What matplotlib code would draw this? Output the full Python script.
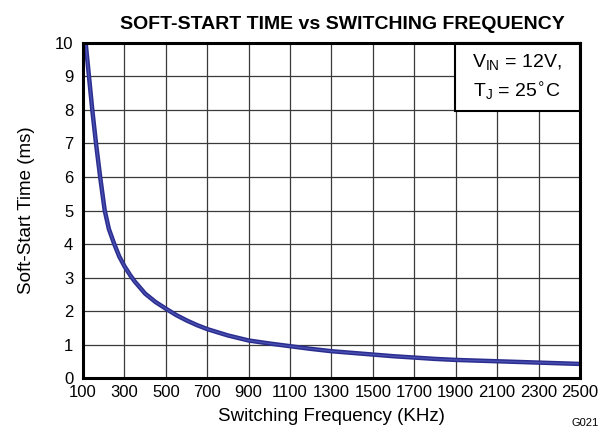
import matplotlib
matplotlib.use("Agg")
import matplotlib.pyplot as plt
from matplotlib.patches import Rectangle

# values
freq_khz = [100, 113, 129, 145, 163, 183, 205, 225, 251, 275, 300, 329, 350, 400, 450,
            500, 550, 600, 650, 700, 800, 900, 1000, 1100, 1200, 1300, 1400, 1500,
            1600, 1700, 1800, 1900, 2000, 2100, 2200, 2300, 2400, 2500]
ss_time_ms = [10.9, 10.0, 9.0, 8.0, 7.0, 6.0, 5.0, 4.45, 4.0, 3.63, 3.34, 3.06, 2.88, 2.52, 2.27,
              2.07, 1.88, 1.72, 1.58, 1.46, 1.27, 1.12, 1.03, 0.95, 0.87, 0.80, 0.75, 0.70,
              0.65, 0.61, 0.57, 0.54, 0.52, 0.50, 0.48, 0.46, 0.44, 0.42]

x_ticks = list(range(100, 2501, 200))
y_ticks = list(range(0, 11))

plt.rcParams['font.family'] = ['Liberation Sans', 'DejaVu Sans']

fig = plt.figure(figsize=(6.03, 4.36), dpi=100)
ax = fig.add_axes([0.1376, 0.133, 0.8243, 0.7684])

ax.plot(freq_khz, ss_time_ms, color='#2b2e8e', lw=3.2, solid_joinstyle='round', zorder=3)
ax.plot(freq_khz, ss_time_ms, color='#4a4fb3', lw=1.0, solid_joinstyle='round', zorder=4)

ax.set_xlim(100, 2500)
ax.set_ylim(0, 10)
ax.set_xticks(x_ticks)
ax.set_yticks(y_ticks)
ax.tick_params(length=0, labelsize=12)
ax.tick_params(axis='x', pad=5)
ax.tick_params(axis='y', pad=7)
ax.grid(True, color='#3a3a3a', lw=0.9)
ax.set_axisbelow(True)
for sp in ax.spines.values():
    sp.set_linewidth(2.2)
    sp.set_zorder(6)

ax.set_xlabel("Switching Frequency (KHz)", fontsize=13.5, labelpad=6)
ax.set_ylabel("Soft-Start Time (ms)", fontsize=13.5, labelpad=14)
ax.set_title("SOFT-START TIME vs SWITCHING FREQUENCY", fontsize=14,
             fontweight='bold', pad=10, x=0.522)

# condition box
ax.add_patch(Rectangle((0.748, 0.798), 0.252, 0.202, transform=ax.transAxes,
                       facecolor='white', edgecolor='black', lw=1.5, zorder=5,
                       clip_on=False))
ax.text(0.874, 0.94, r"V$_{\mathregular{IN}}$ = 12V,", transform=ax.transAxes,
        ha='center', va='center', fontsize=14, zorder=7)
ax.text(0.874, 0.855, r"T$_{\mathregular{J}}$ = 25$^{\circ}$C", transform=ax.transAxes,
        ha='center', va='center', fontsize=14, zorder=7)

fig.text(0.97, 0.03, "G021", fontsize=8, ha='center', va='center')

fig.savefig("out.png", dpi=100)
